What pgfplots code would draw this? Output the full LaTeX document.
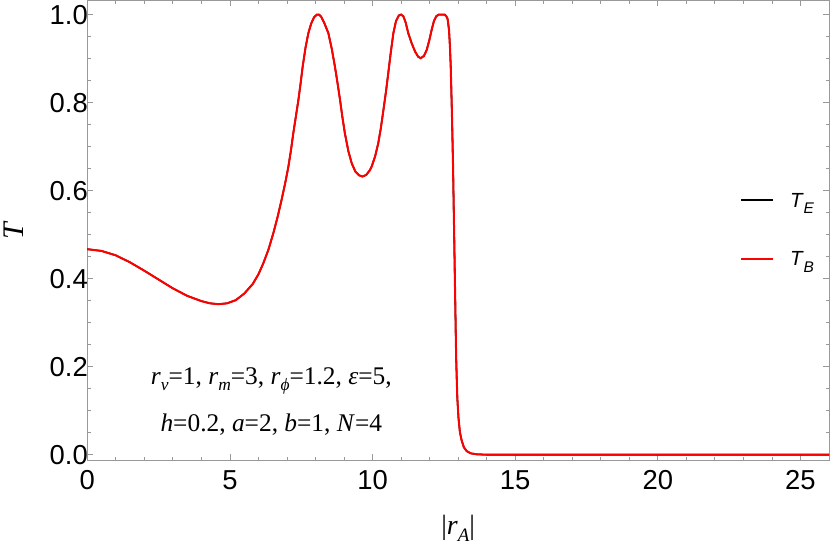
\documentclass[border=0pt]{standalone}
\usepackage{pgfplots}
\pgfplotsset{compat=1.18}
\usepackage{pgfplotstable}
\usepackage{fontspec}
\setmainfont{Liberation Sans}
\newfontfamily\tnr{Liberation Serif}
\usetikzlibrary{calc}
\definecolor{axgray}{gray}{0.6}

\pgfplotstableread{
x y
0 0.467
0.5 0.463
1.0 0.453
1.5 0.437
2.0 0.418
2.5 0.398
3.0 0.378
3.5 0.361
4.0 0.349
4.3 0.344
4.6 0.342
4.9 0.344
5.2 0.351
5.5 0.366
5.8 0.388
6.0 0.410
6.17 0.435
6.35 0.466
6.52 0.503
6.67 0.540
6.81 0.579
6.94 0.618
7.05 0.655
7.14 0.692
7.22 0.730
7.31 0.768
7.40 0.806
7.48 0.845
7.55 0.882
7.65 0.925
7.75 0.958
7.85 0.980
7.95 0.994
8.05 1.000
8.12 1.000
8.20 0.995
8.30 0.982
8.45 0.958
8.57 0.922
8.68 0.882
8.77 0.845
8.86 0.806
8.94 0.768
9.03 0.730
9.15 0.690
9.27 0.662
9.40 0.643
9.52 0.635
9.65 0.632
9.78 0.636
9.90 0.646
9.97 0.655
10.09 0.678
10.20 0.708
10.29 0.742
10.38 0.783
10.47 0.825
10.55 0.867
10.64 0.915
10.73 0.958
10.82 0.985
10.92 0.998
11.00 1.000
11.08 0.996
11.16 0.982
11.25 0.958
11.37 0.935
11.49 0.916
11.60 0.904
11.69 0.901
11.80 0.906
11.90 0.920
11.99 0.942
12.07 0.965
12.15 0.985
12.23 0.996
12.32 1.000
12.42 1.000
12.52 1.000
12.58 0.997
12.63 0.990
12.68 0.965
12.71 0.930
12.74 0.882
12.78 0.780
12.82 0.660
12.86 0.500
12.89 0.380
12.93 0.220
12.97 0.130
13.01 0.085
13.06 0.052
13.12 0.033
13.20 0.017
13.30 0.008
13.45 0.003
13.65 0.001
14.0 0.000
26.0 0.000
}\datatable

\newcommand\sub[2]{\raisebox{-0.24em}{\fontsize{#1}{#1}\selectfont\textit{#2}}}

\begin{document}
\begin{tikzpicture}
\begin{axis}[
  scale only axis,
  width=741.7bp, height=459.5bp,
  xmin=0, xmax=26, ymin=-0.012, ymax=1.032,
  xtick={0,5,10,15,20,25},
  ytick={0,0.2,0.4,0.6,0.8,1.0},
  minor x tick num=4, minor y tick num=3,
  tick pos=both, ticklabel pos=left,
  tick align=inside,
  major tick length=6bp, minor tick length=3.5bp,
  axis line style={axgray, line width=0.8bp},
  every tick/.style={axgray, line width=0.8bp},
  /pgf/number format/assume math mode=true,
  tick label style={font=\fontsize{27.5}{27.5}\selectfont, black},
  yticklabel style={/pgf/number format/fixed, /pgf/number format/fixed zerofill, /pgf/number format/precision=1, xshift=4bp},
  xticklabel style={yshift=-7bp},
  xlabel={\tnr\fontsize{28}{28}\selectfont |\textit{r}\sub{19}{A}|},
  xlabel style={at={(rel axis cs:0.5,0)}, anchor=center, yshift=-68bp},
  ylabel={\tnr\fontsize{30}{30}\selectfont\textit{T}},
  ylabel style={at={(rel axis cs:0,0.5)}, anchor=center, yshift=74bp},
  legend cell align=left,
  legend style={at={(rel axis cs:0.880,0.5016)}, anchor=west, draw=none, fill=none,
    inner sep=0pt, outer sep=0pt, row sep=43.7bp,
    font=\fontsize{20.5}{20.5}\selectfont,
    nodes={inner sep=0pt, text height=14.6bp, text depth=0pt},
    /tikz/every odd column/.append style={column sep=16bp}},
  legend image code/.code={\draw[#1, line width=2bp] (0bp,0bp) -- (32bp,0bp);},
]
\addplot[black, line width=1.6bp] table[x=x, y=y] {\datatable};
\addlegendentry{\textit{T}\raisebox{-0.3em}{\fontsize{15.5}{15.5}\selectfont\textit{E}}}
\addplot[red, line width=2bp] table[x=x, y=y] {\datatable};
\addlegendentry{\textit{T}\raisebox{-0.3em}{\fontsize{15.5}{15.5}\selectfont\textit{B}}}
\node[align=center, font=\tnr\fontsize{25.5}{47}\selectfont] at (axis cs:6.45,0.121)
 {\textit{r}\sub{17.5}{v}=1, \textit{r}\sub{17.5}{m}=3, \textit{r}\sub{17.5}{ϕ}=1.2, \textit{ε}=5,\\
  \textit{h}=0.2, \textit{a}=2, \textit{b}=1, \textit{N}=4};
\end{axis}
\pgfresetboundingbox
\path ($(current axis.south west)+(-87.3bp,-86bp)$) rectangle ($(current axis.north east)+(1bp,0.5bp)$);
\end{tikzpicture}
\end{document}
